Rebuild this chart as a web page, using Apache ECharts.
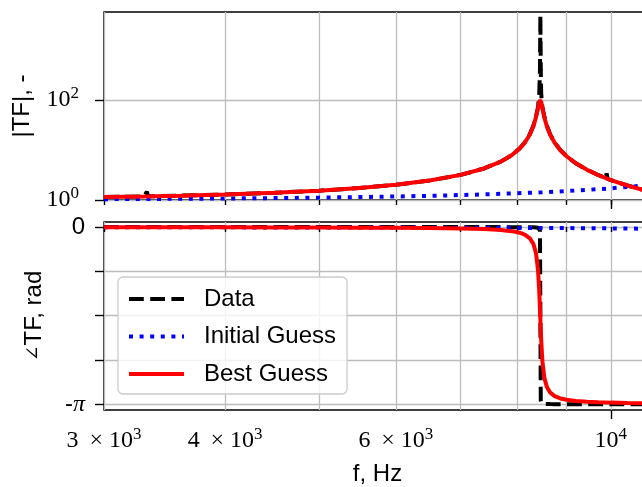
<!DOCTYPE html>
<html><head><meta charset="utf-8">
<script src="https://cdn.jsdelivr.net/npm/echarts@6/dist/echarts.min.js"></script>
<style>html,body{margin:0;padding:0;background:#fff}#c{width:642px;height:487px}</style>
</head><body><div id="c"></div>
<script>
// ---- data ----
const fitFreq = [3000, 3300, 3600, 4000, 4500, 5000, 5500, 6000, 6500, 7000, 7400, 7700, 7900, 8050, 8150, 8250, 8320, 8370, 8410, 8435, 8455, 8475, 8500, 8540, 8590, 8660, 8750, 8870, 9000, 9200, 9450, 9700, 10000, 10400, 10800, 11000];
const bestMag = [1.144, 1.180, 1.221, 1.288, 1.395, 1.538, 1.734, 2.015, 2.445, 3.179, 4.273, 5.852, 7.854, 10.64, 13.99, 20.45, 30.15, 44.81, 68.76, 90.57, 100.0, 90.20, 68.20, 44.27, 29.63, 19.95, 13.94, 9.889, 7.491, 5.426, 4.009, 3.161, 2.507, 1.949, 1.583, 1.444];
const bestPhase = [-0.0041, -0.0046, -0.0052, -0.0061, -0.0074, -0.0091, -0.0113, -0.0143, -0.0188, -0.0263, -0.0374, -0.0533, -0.0735, -0.1015, -0.1352, -0.2009, -0.3011, -0.4598, -0.7531, -1.1282, -1.5708, -2.0122, -2.3858, -2.6781, -2.8358, -2.9359, -2.9968, -3.0377, -3.0618, -3.0825, -3.0968, -3.1053, -3.1119, -3.1176, -3.1214, -3.1228];

const initFreq = [3000, 3500, 4000, 4500, 5000, 5500, 6000, 6500, 7000, 7500, 8000, 8500, 9000, 9500, 10000, 10500, 11000];
const initMag = [1.039, 1.054, 1.071, 1.092, 1.116, 1.144, 1.176, 1.213, 1.256, 1.306, 1.363, 1.430, 1.509, 1.602, 1.713, 1.848, 2.015];
const initPhase = [-0.0044, -0.0052, -0.0061, -0.0070, -0.0079, -0.0089, -0.0100, -0.0112, -0.0125, -0.0139, -0.0155, -0.0173, -0.0193, -0.0216, -0.0243, -0.0275, -0.0315];

const dataFreq = [3000, 3300, 3310, 3321, 3332, 3600, 4000, 4500, 5000, 5500, 6000, 6500, 7000, 7400, 7700, 7900, 8050, 8150, 8250, 8320, 8370, 8410, 8435, 8450, 8458, 8466, 8475, 8500, 8540, 8590, 8660, 8750, 8870, 9000, 9200, 9450, 9700, 9880, 9900, 9920, 10000, 10400, 10800, 11000];
const dataMag = [1.144, 1.180, 1.181, 1.47, 1.184, 1.221, 1.288, 1.395, 1.538, 1.734, 2.015, 2.445, 3.179, 4.273, 5.86, 7.87, 10.7, 14.1, 20.8, 31.0, 47.0, 70.0, 130, 400, 5000, 400, 130, 70.0, 46.0, 30.5, 20.3, 14.1, 9.95, 7.52, 5.44, 4.02, 3.17, 2.74, 3.42, 2.66, 2.51, 1.95, 1.585, 1.445];
const dataPhase = [0, 0, 0, 0, 0, 0, 0, 0, 0, 0, -0.001, -0.001, -0.001, -0.002, -0.002, -0.003, -0.003, -0.004, -0.005, -0.006, -0.008, -0.012, -0.02, -0.06, -1.57, -3.08, -3.12, -3.13, -3.135, -3.137, -3.138, -3.139, -3.139, -3.14, -3.14, -3.14, -3.141, -3.141, -3.141, -3.141, -3.141, -3.141, -3.141, -3.141];

const seriesNames = ['Data', 'Initial Guess', 'Best Guess'];
const xTickValues = [3000, 4000, 5000, 6000, 7000, 8000, 9000, 10000];
const xMajorTicks = [10000];
const xLabelValues = [3000, 4000, 6000, 10000];
const xLabelMantissa = ['3 \u2009× 10', '4 \u2009× 10', '6 \u2009× 10', '10'];
const xLabelExponent = ['3', '3', '3', '4'];
const magTickValues = [1, 100];
const phaseTickValues = [0, -Math.PI / 4, -Math.PI / 2, -3 * Math.PI / 4, -Math.PI];
const phaseLabelValues = [0, -Math.PI];

// ---- chart ----
const SANS = 'Liberation Sans';
const SERIF = 'Liberation Serif';
const pairs = (xs, ys) => xs.map((x, i) => [x, ys[i]]);
const LW = 4;
const styles = [
  { color: '#000000', lineStyle: { color: '#000000', width: LW, type: [14.8, 6.4], cap: 'butt' } },
  { color: '#0000ff', lineStyle: { color: '#0000ff', width: LW, type: [4, 6.6], cap: 'butt' } },
  { color: '#ff0000', lineStyle: { color: '#ff0000', width: LW, type: 'solid' } }
];
const gridLine = { show: true, lineStyle: { color: '#bdbdbd', width: 1.3 } };
const tickStyle = { color: '#000', width: 1.4 };
const mathRich = {
  m: { fontFamily: SERIF, fontSize: 24, color: '#000', lineHeight: 30 },
  s: { fontFamily: SERIF, fontSize: 17, color: '#000', verticalAlign: 'top' },
  a: { fontFamily: SANS, fontSize: 24, color: '#000', lineHeight: 30 },
  p: { fontFamily: SERIF, fontStyle: 'italic', fontSize: 24, color: '#000', lineHeight: 30 }
};
const xMin = 3000, xMax = 11000;

function xAxesFor(gi, withLabels) {
  return [
    {
      type: 'log', logBase: 10, gridIndex: gi, position: 'bottom', min: xMin, max: xMax,
      axisLine: { show: false },
      axisTick: { show: true, customValues: xTickValues, length: 5, lineStyle: tickStyle },
      axisLabel: withLabels ? {
        show: true, customValues: xLabelValues, margin: 16, rich: mathRich,
        formatter: v => {
          const i = xLabelValues.findIndex(t => Math.abs(t - v) < 1);
          return i < 0 ? '' : '{m|' + xLabelMantissa[i] + '}{s|' + xLabelExponent[i] + '}';
        }
      } : { show: false },
      splitLine: gridLine,
      name: withLabels ? 'f, Hz' : '', nameLocation: 'middle', nameGap: 52,
      nameTextStyle: { fontFamily: SANS, fontSize: 24, color: '#000' }
    },
    {
      type: 'log', logBase: 10, gridIndex: gi, position: 'bottom', min: xMin, max: xMax,
      axisLine: { show: false },
      axisTick: { show: true, customValues: xMajorTicks, length: 9, lineStyle: tickStyle },
      axisLabel: { show: false }, splitLine: { show: false }
    }
  ];
}

const gridCommon = { left: 104, width: 547, height: 188, show: true, borderColor: '#000', borderWidth: 1.5, backgroundColor: 'transparent', containLabel: false, outerBoundsMode: 'none' };
const option = {
  animation: false,
  backgroundColor: '#ffffff',
  grid: [
    Object.assign({ top: 12 }, gridCommon),
    Object.assign({ top: 222 }, gridCommon)
  ],
  xAxis: [...xAxesFor(0, false), ...xAxesFor(1, true)],
  yAxis: [
    {
      type: 'log', logBase: 10, gridIndex: 0, position: 'left', min: 1, max: 5754,
      axisLine: { show: false },
      axisTick: { show: true, customValues: magTickValues, length: 9, lineStyle: tickStyle },
      axisLabel: {
        show: true, customValues: magTickValues, margin: 25, rich: mathRich,
        formatter: v => '{m|10}{s|' + Math.round(Math.log10(v)) + '}'
      },
      splitLine: gridLine,
      name: '|TF|, -', nameLocation: 'middle', nameGap: 70,
      nameTextStyle: { fontFamily: SANS, fontSize: 24, color: '#000' }
    },
    {
      type: 'value', gridIndex: 1, position: 'left', min: -3.2426, max: 0.0888,
      axisLine: { show: false },
      axisTick: { show: true, customValues: phaseTickValues, length: 9, lineStyle: tickStyle },
      axisLabel: {
        show: true, customValues: phaseLabelValues, margin: 19, rich: mathRich,
        formatter: v => (Math.abs(v) < 0.01 ? '{a|0}' : '{a|-}{p|π}')
      },
      splitLine: gridLine,
      name: '{g|∠}TF, rad', nameLocation: 'middle', nameGap: 58,
      nameTextStyle: {
        fontFamily: SANS, fontSize: 24, color: '#000',
        rich: { g: { fontFamily: 'DejaVu Serif', fontSize: 19, color: '#000' } }
      }
    }
  ],
  legend: {
    orient: 'vertical', left: 118, top: 277,
    data: seriesNames,
    itemWidth: 55, itemHeight: 14, itemGap: 9.5,
    padding: [8, 11, 6, 9],
    backgroundColor: 'rgba(255,255,255,0.8)', borderColor: '#cccccc', borderWidth: 1.3, borderRadius: 5,
    itemStyle: { opacity: 0 },
    lineStyle: { width: LW },
    textStyle: { fontFamily: SANS, fontSize: 24, color: '#000', lineHeight: 28, padding: [0, 0, 0, 15] }
  },
  series: [
    { name: seriesNames[0], data: pairs(dataFreq, dataMag), xAxisIndex: 0, yAxisIndex: 0, ...styles[0] },
    { name: seriesNames[1], data: pairs(initFreq, initMag), xAxisIndex: 0, yAxisIndex: 0, ...styles[1] },
    { name: seriesNames[2], data: pairs(fitFreq, bestMag), xAxisIndex: 0, yAxisIndex: 0, ...styles[2] },
    { name: seriesNames[0], data: pairs(dataFreq, dataPhase), xAxisIndex: 2, yAxisIndex: 1, ...styles[0] },
    { name: seriesNames[1], data: pairs(initFreq, initPhase), xAxisIndex: 2, yAxisIndex: 1, ...styles[1] },
    { name: seriesNames[2], data: pairs(fitFreq, bestPhase), xAxisIndex: 2, yAxisIndex: 1, ...styles[2] }
  ].map(s => Object.assign({ type: 'line', showSymbol: false, symbol: 'none', clip: true, silent: true }, s))
};
const chart = echarts.init(document.getElementById('c'), null, { renderer: 'canvas', devicePixelRatio: 1 });
chart.setOption(option);
</script></body></html>
